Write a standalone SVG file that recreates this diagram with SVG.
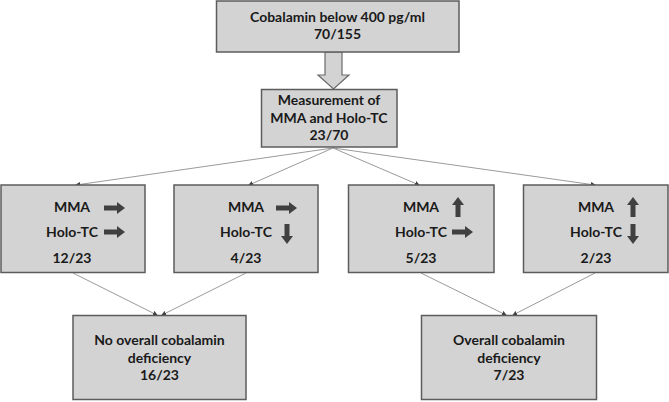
<svg xmlns="http://www.w3.org/2000/svg" width="669" height="402" viewBox="0 0 669 402">
<defs>
<style>
.box{fill:#d3d3d3;stroke:#5c5c5c;stroke-width:1.5}
.t{font-family:Lato,"Liberation Sans",sans-serif;font-weight:bold;font-size:14px;fill:#1a1a1a;text-anchor:middle}
.c{stroke:#9a9a9a;stroke-width:1;fill:none;marker-end:url(#ah)}
.ar{fill:#404040}
</style>
<marker id="ah" viewBox="0 0 6 6" refX="5" refY="3" markerWidth="5" markerHeight="5" orient="auto" markerUnits="userSpaceOnUse">
<path d="M0,0 L6,3 L0,6 z" fill="#404040"/>
</marker>
<path id="right" d="M0,-2.5 L13,-2.5 L13,-6 L21,0 L13,6 L13,2.5 L0,2.5 z"/>
<path id="up" d="M-2.5,20 L-2.5,8 L-6,8 L0,0 L6,8 L2.5,8 L2.5,20 z"/>
<path id="down" d="M-2.5,0 L2.5,0 L2.5,12 L6,12 L0,20 L-6,12 L-2.5,12 z"/>
</defs>
<rect width="669" height="402" fill="#ffffff"/>

<g id="connectors">
<polygon points="325,52 342,52 342,75 349,75 333.5,89 318,75 325,75" fill="#d3d3d3" stroke="#6a6a6a" stroke-width="1.2"/>
<line class="c" x1="333" y1="148" x2="76" y2="185"/>
<line class="c" x1="333" y1="148" x2="249" y2="185"/>
<line class="c" x1="333" y1="148" x2="419" y2="185"/>
<line class="c" x1="333" y1="148" x2="595" y2="185"/>
<line class="c" x1="73" y1="273" x2="157" y2="315"/>
<line class="c" x1="246" y1="273" x2="162" y2="315"/>
<line class="c" x1="421" y1="273" x2="506" y2="315"/>
<line class="c" x1="595" y1="273" x2="513" y2="315"/>
</g>

<g id="top">
<rect class="box" x="216.5" y="1" width="242.5" height="51"/>
<text class="t" x="337.5" y="22">Cobalamin below 400 pg/ml</text>
<text class="t" x="337.5" y="39">70/155</text>
</g>

<g id="measure">
<rect class="box" x="261.5" y="89.5" width="135.5" height="57.5"/>
<text class="t" x="329" y="105">Measurement of</text>
<text class="t" x="329" y="122.5">MMA and Holo-TC</text>
<text class="t" x="329" y="140">23/70</text>
</g>

<g id="g1">
<rect class="box" x="1" y="185" width="144" height="87.5"/>
<text class="t" x="72" y="212">MMA</text>
<text class="t" x="72" y="237">Holo-TC</text>
<text class="t" x="72" y="263">12/23</text>
<use href="#right" class="ar" x="104" y="208"/>
<use href="#right" class="ar" x="104" y="232"/>
</g>

<g id="g2">
<rect class="box" x="174" y="185" width="144" height="87.5"/>
<text class="t" x="246" y="212">MMA</text>
<text class="t" x="246" y="237">Holo-TC</text>
<text class="t" x="246" y="263">4/23</text>
<use href="#right" class="ar" x="276" y="208"/>
<use href="#down" class="ar" x="287" y="224"/>
</g>

<g id="g3">
<rect class="box" x="348.5" y="185" width="145.5" height="87.5"/>
<text class="t" x="421" y="212">MMA</text>
<text class="t" x="421" y="237">Holo-TC</text>
<text class="t" x="421" y="263">5/23</text>
<use href="#up" class="ar" x="458" y="197"/>
<use href="#right" class="ar" x="452" y="232"/>
</g>

<g id="g4">
<rect class="box" x="523.5" y="185" width="144.5" height="87.5"/>
<text class="t" x="596" y="212">MMA</text>
<text class="t" x="596" y="237">Holo-TC</text>
<text class="t" x="596" y="263">2/23</text>
<use href="#up" class="ar" x="633" y="197"/>
<use href="#down" class="ar" x="633" y="224"/>
</g>

<g id="noDef">
<rect class="box" x="73" y="315.5" width="173" height="84"/>
<text class="t" x="159.5" y="345">No overall cobalamin</text>
<text class="t" x="159.5" y="363">deficiency</text>
<text class="t" x="159.5" y="380">16/23</text>
</g>

<g id="def">
<rect class="box" x="421.5" y="315.5" width="175" height="84"/>
<text class="t" x="509" y="345">Overall cobalamin</text>
<text class="t" x="509" y="363">deficiency</text>
<text class="t" x="509" y="380">7/23</text>
</g>
</svg>
